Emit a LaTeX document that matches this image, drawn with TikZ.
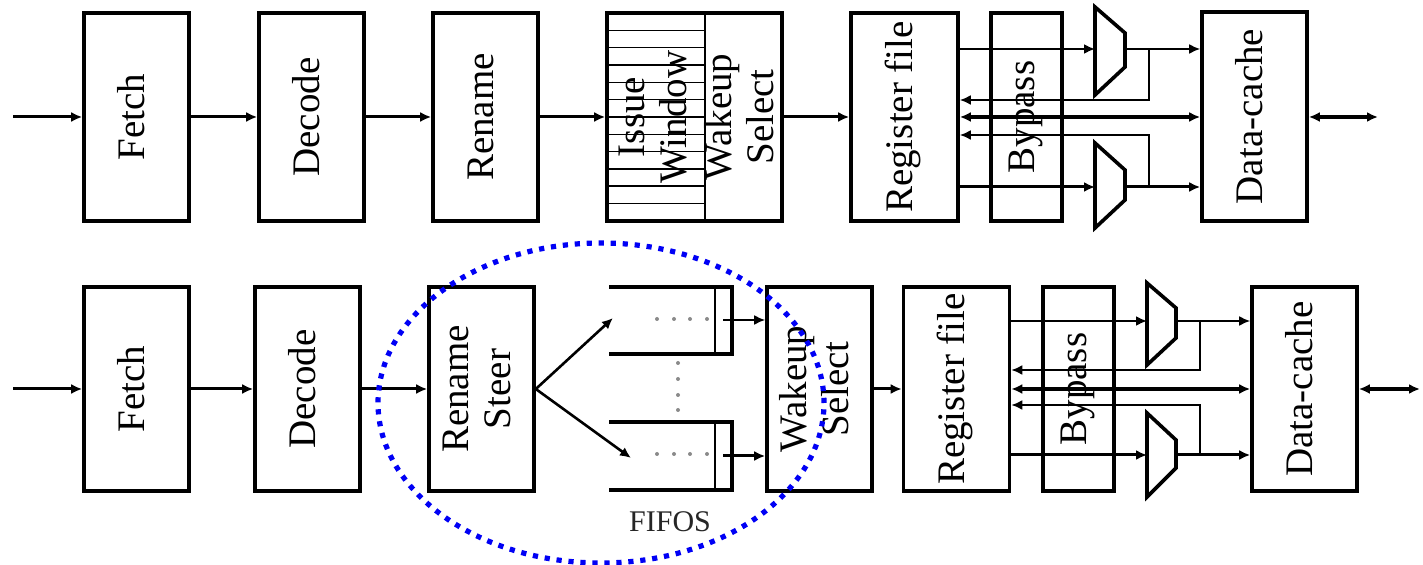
\documentclass[tikz,border=0pt]{standalone}
\usepackage{fontspec}
\setmainfont{Liberation Serif}
\usetikzlibrary{arrows.meta}
\definecolor{zoneblue}{HTML}{0000F5}
\definecolor{dotgray}{HTML}{8A8A8A}
\newcommand{\stagetext}[1]{\rotatebox{90}{\begin{tabular}{@{}c@{}}#1\end{tabular}}}

\begin{document}
\begin{tikzpicture}[
  x=0.5pt,
  y=-0.5pt,
  pipestage/.style={draw,line width=1.8pt,inner sep=0pt,minimum width=52.5pt,minimum height=104pt,font=\fontsize{19.5}{21}\selectfont},
  lowstage/.style={pipestage,minimum height=102pt},
  stagelabel/.style={inner sep=0pt,font=\fontsize{19.5}{21}\selectfont},
  pipeflow/.style={line width=1.5pt,-{Latex[length=5.5pt,width=5pt]}},
  thinflow/.style={line width=1pt,-{Latex[length=5.5pt,width=5pt]}},
  busflow/.style={line width=2pt,{Latex[length=5.5pt,width=5pt]}-{Latex[length=5.5pt,width=5pt]}},
  muxshape/.style={draw,line width=1.8pt},
  slotline/.style={line width=0.8pt},
  queuewall/.style={draw,line width=1.8pt},
  zone/.style={draw=zoneblue,line width=2.6pt,dash pattern=on 2.6pt off 3.4pt}
]
  \useasboundingbox (0,0) rectangle (1423,565);

  % Conventional pipeline (top row).
  \node[pipestage] (fetchA) at (136.5,117) {\stagetext{Fetch}};
  \node[pipestage] (decodeA) at (311.5,117) {\stagetext{Decode}};
  \node[pipestage] (renameA) at (485.5,117) {\stagetext{Rename}};
  \node[pipestage,minimum width=87.5pt] (issueA) at (694.5,117) {};
  \node[pipestage,minimum width=53.5pt] (regA) at (904.5,117) {\stagetext{Register file}};
  \node[pipestage,minimum width=35.5pt] (bypassA) at (1026.5,117) {\stagetext{Bypass}};
  \node[pipestage,minimum height=104.5pt] (cacheA) at (1254.5,116.5) {\stagetext{Data-cache}};

  % Issue window slots sit under the label.
  \foreach \k in {1,...,11} {
    \draw[slotline] (607,{13+17.33*\k}) -- (705,{13+17.33*\k});
  }
  \draw[slotline,line width=1pt] (705,13) -- (705,221);
  \node[stagelabel] (issueText) at (657,117) {\stagetext{Issue\\Window}};
  \node[stagelabel] (wakeText) at (744,117) {\stagetext{Wakeup\\Select}};

  \coordinate (inA) at (13,117);
  \coordinate (outA) at (1378,117);
  \draw[pipeflow] (inA) -- (fetchA);
  \foreach \a/\b in {fetchA/decodeA,decodeA/renameA,renameA/issueA,issueA/regA} {
    \draw[pipeflow] (\a) -- (\b);
  }

  % Muxes between register file and data cache.
  \draw[muxshape] (1095,7) -- (1125,33) -- (1125,67) -- (1095,95) -- cycle;
  \draw[muxshape] (1095,143) -- (1125,170) -- (1125,200) -- (1095,228) -- cycle;
  \coordinate (muxA1in) at (1095,49);
  \coordinate (muxA1out) at (1125,49);
  \coordinate (muxA2in) at (1095,187);
  \coordinate (muxA2out) at (1125,187);
  \coordinate (tapA1) at (1149,49);
  \coordinate (fbA1) at (1149,100);
  \coordinate (tapA2) at (1149,187);
  \coordinate (fbA2) at (1149,135);

  \draw[thinflow] (regA.east |- muxA1in) -- (muxA1in);
  \draw[thinflow] (muxA1out) -- (muxA1out -| cacheA.west);
  \draw[pipeflow] (regA.east |- muxA2in) -- (muxA2in);
  \draw[pipeflow] (muxA2out) -- (muxA2out -| cacheA.west);
  \draw[thinflow] (tapA1) -- (fbA1) -- (fbA1 -| regA.east);
  \draw[thinflow] (tapA2) -- (fbA2) -- (fbA2 -| regA.east);
  \draw[busflow] (regA.east) -- (regA.east -| cacheA.west);
  \draw[busflow] (cacheA.east |- outA) -- (outA);

  % Clustered pipeline (bottom row).
  \node[lowstage] (fetchB) at (136.5,389) {\stagetext{Fetch}};
  \node[lowstage] (decodeB) at (307.5,389) {\stagetext{Decode}};
  \node[lowstage] (renameB) at (481.5,389) {\stagetext{Rename\\Steer}};
  \node[lowstage] (wakeB) at (819.5,389) {\stagetext{Wakeup\\Select}};
  \node[lowstage,minimum width=53pt] (regB) at (956.5,389) {\stagetext{Register file}};
  \node[lowstage,minimum width=35.5pt] (bypassB) at (1078.5,389) {\stagetext{Bypass}};
  \node[lowstage] (cacheB) at (1304.5,389) {\stagetext{Data-cache}};

  \coordinate (inB) at (13,389);
  \coordinate (outB) at (1420,389);
  \draw[pipeflow] (inB) -- (fetchB);
  \foreach \a/\b in {fetchB/decodeB,decodeB/renameB,wakeB/regB} {
    \draw[pipeflow] (\a) -- (\b);
  }

  % FIFO queues fed by the steering logic.
  \draw[queuewall] (609,287) -| (732,354) -- (609,354);
  \draw[slotline] (715,287) -- (715,354);
  \draw[queuewall] (609,422) -| (732,490) -- (609,490);
  \draw[slotline] (715,422) -- (715,490);
  \foreach \x in {657,674,690,707} {
    \fill[dotgray] (\x,319) circle[radius=1pt];
    \fill[dotgray] (\x,454) circle[radius=1pt];
  }
  \foreach \y in {363,379,395,410} {
    \fill[dotgray] (678,\y) circle[radius=1pt];
  }
  \node[font=\fontsize{15}{18}\selectfont,text=black!85] (fifoLabel) at (670,522) {FIFOS};

  \coordinate (fifoInA) at (613,318);
  \coordinate (fifoInB) at (631,458);
  \coordinate (fifoOutA) at (723,320);
  \coordinate (fifoOutB) at (723,456);
  \draw[thinflow,line width=1.3pt] (renameB.east) -- (fifoInA);
  \draw[thinflow,line width=1.3pt] (renameB.east) -- (fifoInB);
  \draw[thinflow] (fifoOutA) -- (fifoOutA -| wakeB.west);
  \draw[pipeflow] (fifoOutB) -- (fifoOutB -| wakeB.west);

  % Muxes between register file and data cache.
  \draw[muxshape] (1147,283) -- (1176,308) -- (1176,338) -- (1147,365) -- cycle;
  \draw[muxshape] (1147,413) -- (1176,440) -- (1176,468) -- (1147,497) -- cycle;
  \coordinate (muxB1in) at (1147,321);
  \coordinate (muxB1out) at (1176,321);
  \coordinate (muxB2in) at (1147,455);
  \coordinate (muxB2out) at (1176,455);
  \coordinate (tapB1) at (1200,321);
  \coordinate (fbB1) at (1200,370);
  \coordinate (tapB2) at (1200,455);
  \coordinate (fbB2) at (1200,405);

  \draw[thinflow] (regB.east |- muxB1in) -- (muxB1in);
  \draw[thinflow] (muxB1out) -- (muxB1out -| cacheB.west);
  \draw[pipeflow] (regB.east |- muxB2in) -- (muxB2in);
  \draw[pipeflow] (muxB2out) -- (muxB2out -| cacheB.west);
  \draw[thinflow] (tapB1) -- (fbB1) -- (fbB1 -| regB.east);
  \draw[thinflow] (tapB2) -- (fbB2) -- (fbB2 -| regB.east);
  \draw[busflow] (regB.east) -- (cacheB.west);
  \draw[busflow] (cacheB.east) -- (outB);

  % Highlighted region drawn last, over everything.
  \draw[zone] (601,403) ellipse[x radius=111.5pt,y radius=80pt];
\end{tikzpicture}
\end{document}
